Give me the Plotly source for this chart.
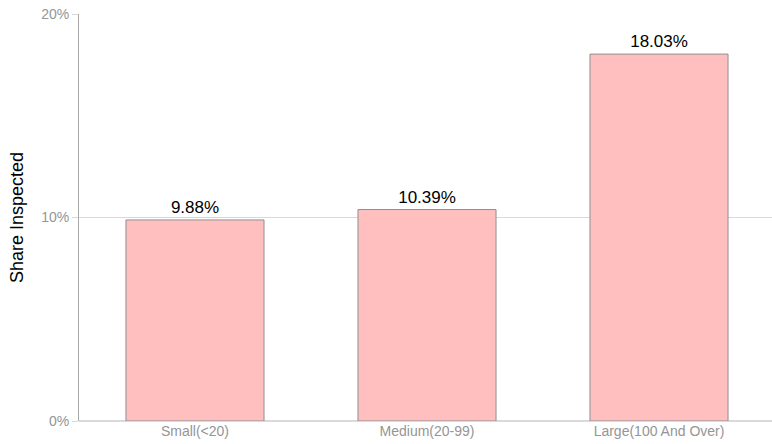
import plotly.graph_objects as go

categories = ["Small(<20)", "Medium(20-99)", "Large(100 And Over)"]
share_inspected = [9.88, 10.39, 18.03]
value_labels = ["9.88%", "10.39%", "18.03%"]
y_ticks = [0, 10, 20]
y_tick_text = ["0%", "10%", "20%"]

fig = go.Figure(
    go.Bar(
        x=categories,
        y=share_inspected,
        width=0.595,
        marker=dict(color="#FFBFBF", line=dict(color="#8f8f8f", width=1)),
        text=value_labels,
        textposition="outside",
        textfont=dict(color="#000000", size=17),
        cliponaxis=False,
    )
)

fig.update_layout(
    width=772,
    height=444,
    margin=dict(l=79, r=0, t=14, b=23),
    paper_bgcolor="white",
    plot_bgcolor="white",
    font=dict(family="Liberation Sans, Arial, sans-serif"),
    showlegend=False,
)

fig.update_xaxes(
    range=[-0.5, 2.487],
    showgrid=False,
    showline=False,
    ticks="",
    tickfont=dict(color="#959595", size=14),
)

fig.update_yaxes(
    range=[0, 20],
    tickvals=y_ticks,
    ticktext=y_tick_text,
    showgrid=True,
    gridcolor="#d9d9d9",
    gridwidth=1,
    zeroline=True,
    zerolinecolor="#d9d9d9",
    showline=True,
    linecolor="#a8a8a8",
    linewidth=1,
    ticks="outside",
    ticklen=6,
    tickcolor="#d9d9d9",
    tickfont=dict(color="#959595", size=14),
    title=dict(text="Share Inspected", font=dict(color="#000000", size=18), standoff=12),
)

fig.write_html("out.html")
